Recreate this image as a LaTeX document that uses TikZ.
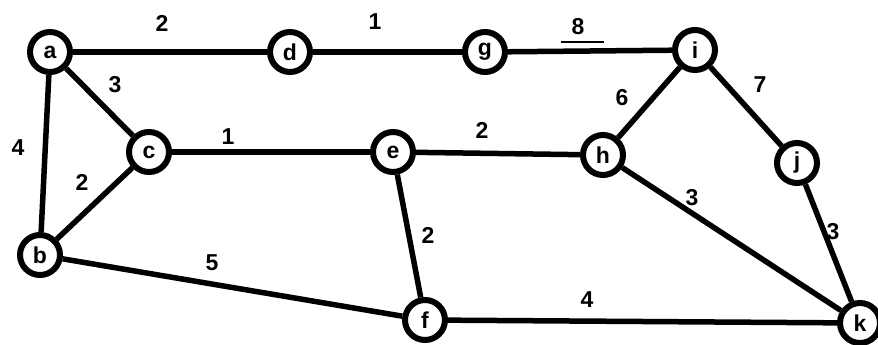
\documentclass[tikz,border=0pt]{standalone}
\usepackage{fontspec}
\setmainfont{Liberation Sans}
\begin{document}
\begin{tikzpicture}[x=1pt,y=-1pt,
  vtx/.style={circle,draw=black,line width=6pt,fill=white,minimum size=40pt,inner sep=0pt,font=\fontsize{23}{23}\selectfont\bfseries},
  edge/.style={line width=5.5pt,black},
  wt/.style={font=\fontsize{23}{23}\selectfont\bfseries,inner sep=0pt}]
\useasboundingbox (0,0) rectangle (878,345);
\clip (0,0) rectangle (878,345);
% nodes
\node[vtx] (a) at (50,52) {a};
\node[vtx] (d) at (290,52) {d};
\node[vtx] (g) at (485,52) {g};
\node[vtx] (i) at (695,50) {i};
\node[vtx] (c) at (149,152) {c};
\node[vtx] (e) at (393,152) {e};
\node[vtx] (h) at (603,155) {h};
\node[vtx] (j) at (797,163) {j};
\node[vtx] (b) at (40,255) {b};
\node[vtx] (f) at (425,320) {f};
\node[vtx] (k) at (860,323) {k};
% edges
\draw[edge] (a) -- (d);
\draw[edge] (d) -- (g);
\draw[edge] (g) -- (i);
\draw[edge] (a) -- (c);
\draw[edge] (a) -- (b);
\draw[edge] (b) -- (c);
\draw[edge] (c) -- (e);
\draw[edge] (e) -- (h);
\draw[edge] (h) -- (i);
\draw[edge] (i) -- (j);
\draw[edge] (h) -- (k);
\draw[edge] (j) -- (k);
\draw[edge] (e) -- (f);
\draw[edge] (b) -- (f);
\draw[edge] (f) -- (k);
% weights
\node[wt] (w1) at (162,23) {2};
\node[wt] (w2) at (375,22) {1};
\node[wt] (w3) at (578,27) {8};
\coordinate (u1) at (561,42);
\coordinate (u2) at (604,42);
\draw[line width=1.3pt] (u1) -- (u2);
\node[wt] (w4) at (115,85) {3};
\node[wt] (w5) at (18,148) {4};
\node[wt] (w6) at (228,137) {1};
\node[wt] (w7) at (82,182) {2};
\node[wt] (w8) at (482,130) {2};
\node[wt] (w9) at (622,98) {6};
\node[wt] (w10) at (760,85) {7};
\node[wt] (w11) at (692,198) {3};
\node[wt] (w12) at (833,232) {3};
\node[wt] (w13) at (428,235) {2};
\node[wt] (w14) at (212,263) {5};
\node[wt] (w15) at (587,300) {4};
\end{tikzpicture}
\end{document}
